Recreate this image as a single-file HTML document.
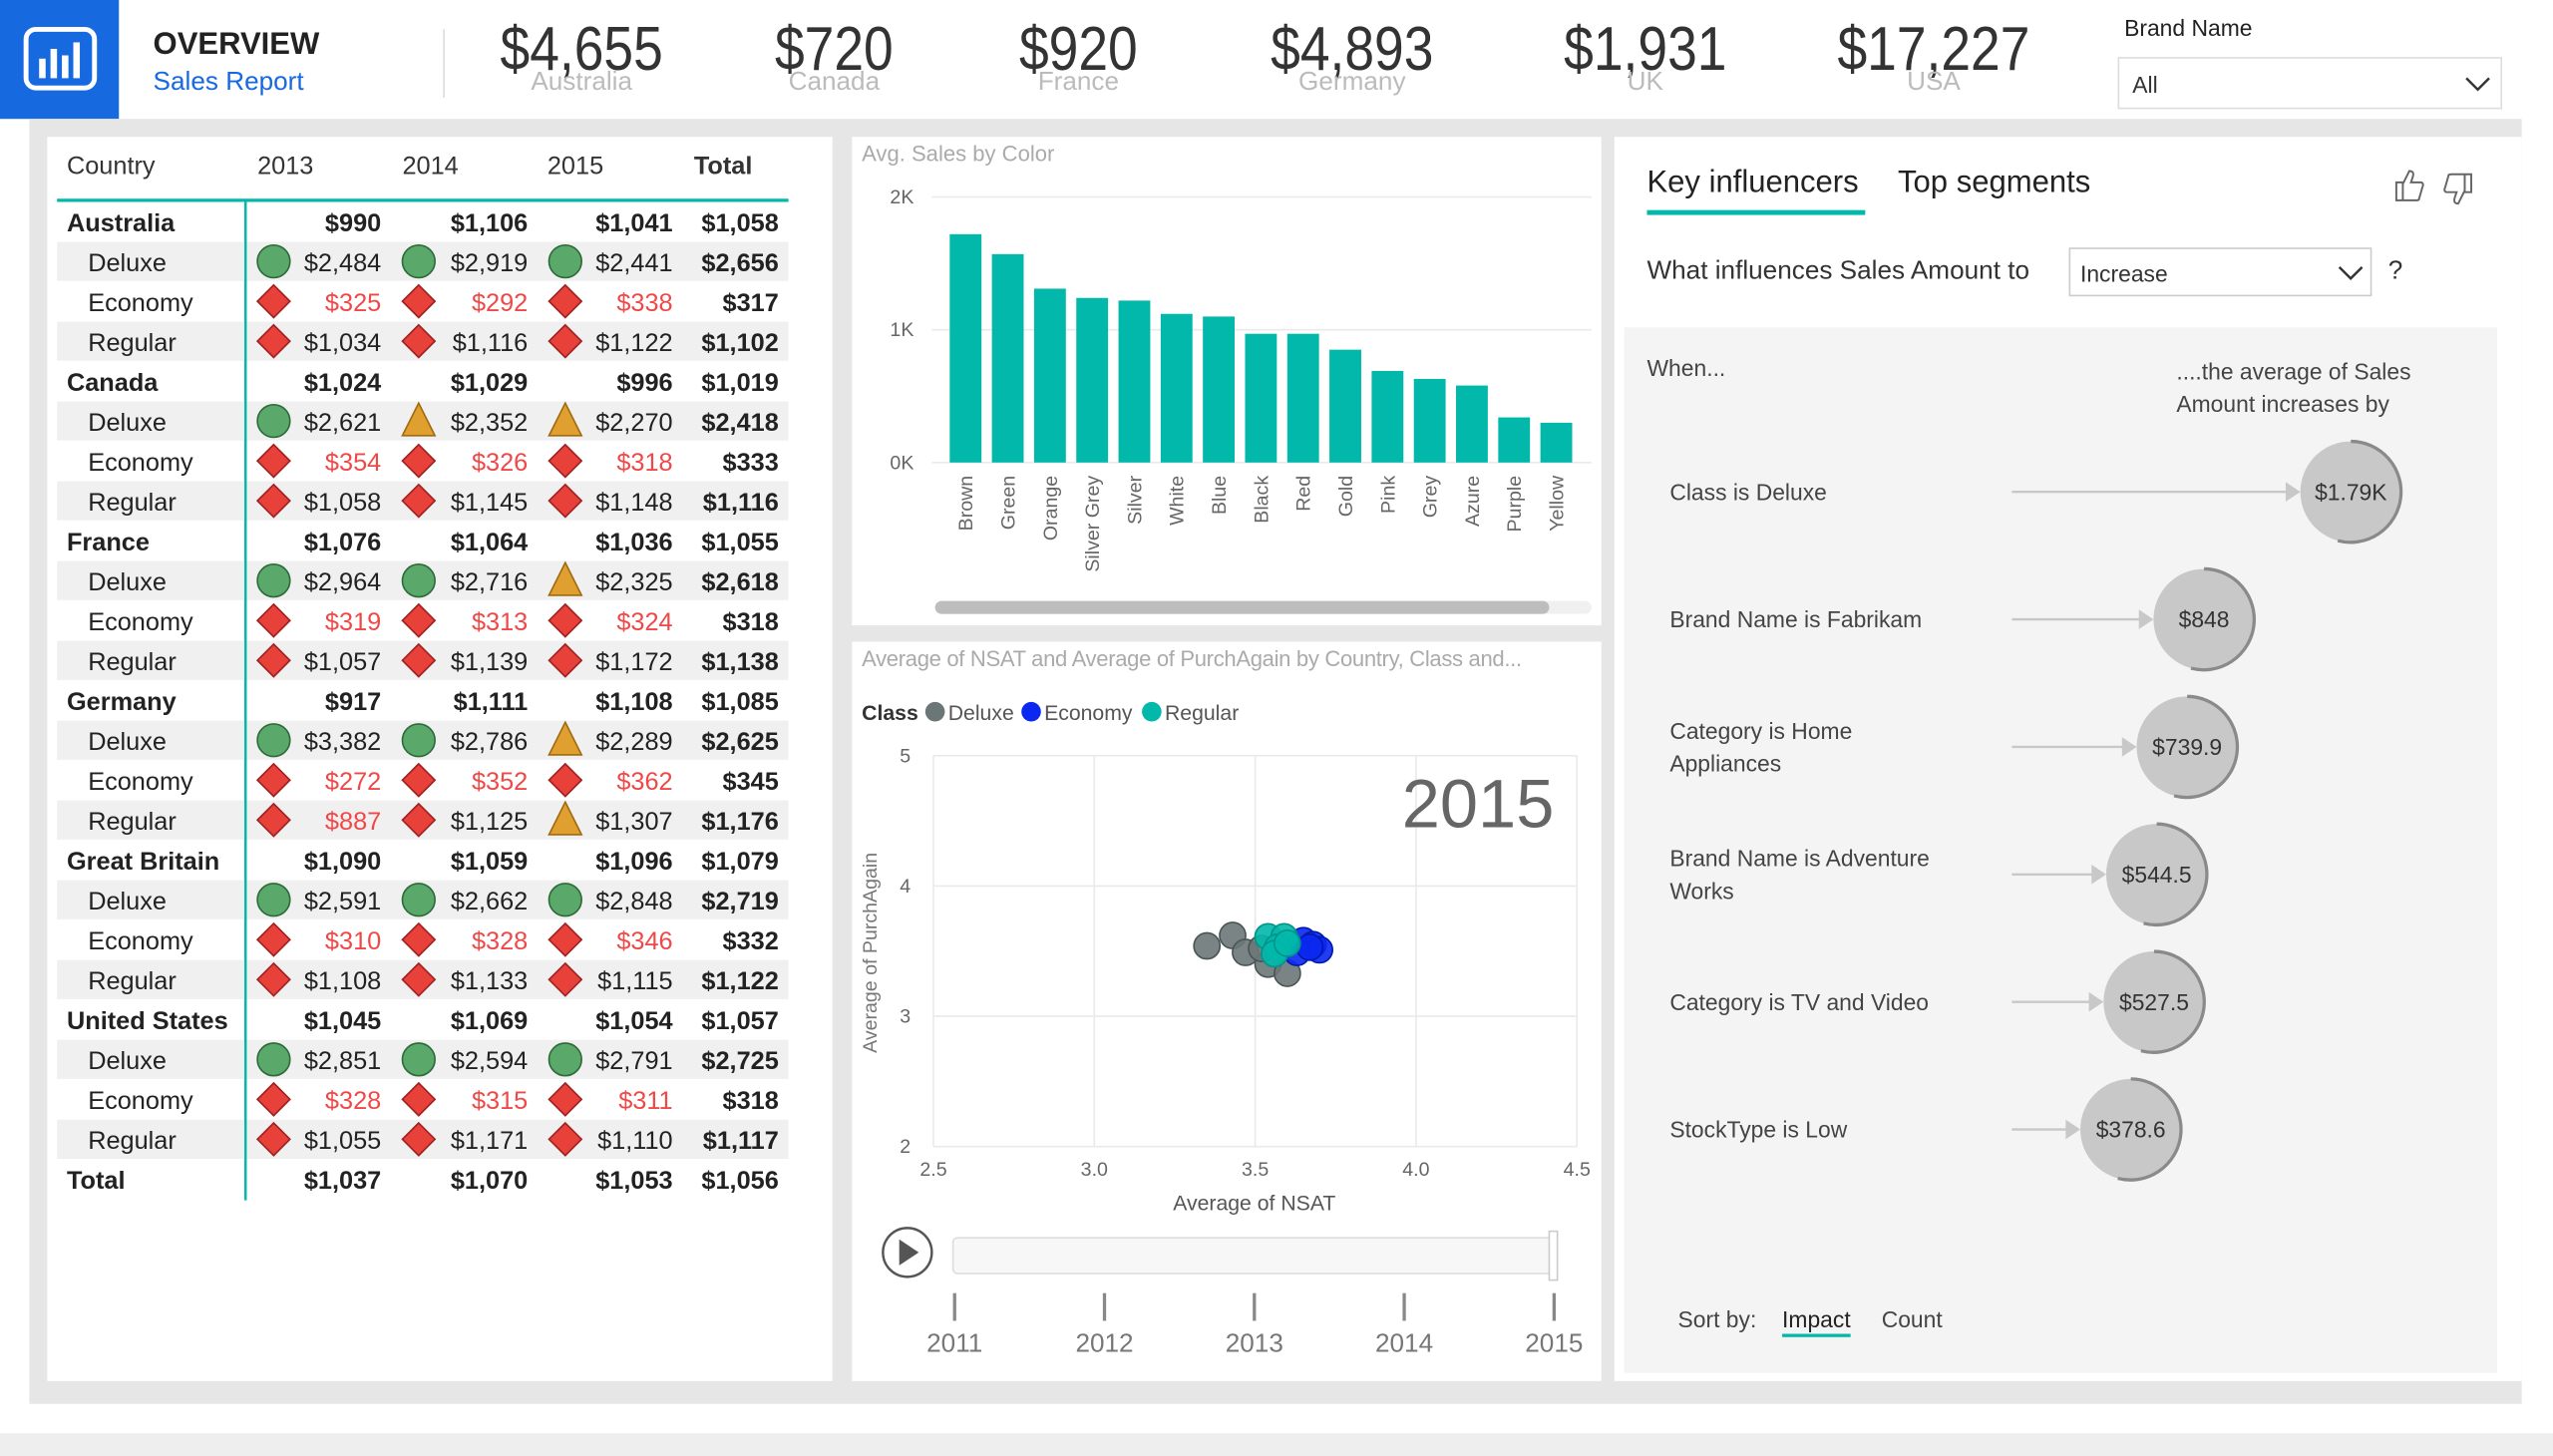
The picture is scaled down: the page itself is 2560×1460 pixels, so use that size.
<!DOCTYPE html>
<html><head><meta charset="utf-8">
<style>
*{box-sizing:border-box;margin:0;padding:0}
html,body{width:2560px;height:1460px;overflow:hidden;background:#fff;font-family:"Liberation Sans",sans-serif}
#wrap{position:absolute;left:0;top:0;width:1568px;height:894px;transform:scale(1.6335,1.6331);transform-origin:0 0;background:#fff}
.abs{position:absolute;white-space:nowrap}
.panel{position:absolute;background:#fff}
</style></head><body>
<div id="wrap">
<div class="abs" style="left:0;top:0;width:1568px;height:73px;background:#fff"></div>
<div class="abs" style="left:0;top:0;width:73px;height:73px;background:#1769e0">
<svg width="73" height="73"><rect x="16" y="18" width="42" height="36" rx="6" fill="none" stroke="#fff" stroke-width="3"/><rect x="24" y="36" width="4" height="12" fill="#fff"/><rect x="31" y="30" width="4" height="18" fill="#fff"/><rect x="38" y="34" width="4" height="14" fill="#fff"/><rect x="45" y="26" width="4" height="22" fill="#fff"/></svg></div>
<div class="abs" style="left:94px;top:17px;font-size:19px;font-weight:bold;color:#222">OVERVIEW</div>
<div class="abs" style="left:94px;top:42px;font-size:16px;color:#1769e0">Sales Report</div>
<div class="abs" style="left:272px;top:18px;width:1px;height:42px;background:#ddd"></div>
<div id="kpis"></div>
<div class="abs" style="left:1304px;top:9px;font-size:14px;color:#222">Brand Name</div>
<div class="abs" style="left:1300px;top:35px;width:236px;height:32px;border:1px solid #ddd;background:#fff">
<span class="abs" style="left:8px;top:8px;font-size:14px;color:#333">All</span>
<svg class="abs" style="left:212px;top:10px" width="16" height="12"><polyline points="1,2 8,9 15,2" fill="none" stroke="#333" stroke-width="1.5"/></svg></div>

<div class="abs" style="left:18px;top:73px;width:1530px;height:789px;background:#e6e6e6"></div>
<div class="abs" style="left:0;top:880px;width:1568px;height:14px;background:#eeeeee"></div>

<div class="panel" style="left:29px;top:84px;width:482px;height:764px">
<svg id="tbl" width="482" height="764"></svg></div>

<div class="panel" style="left:523px;top:84px;width:460px;height:300px"></div>
<div class="abs" style="left:529px;top:87px;font-size:13.5px;color:#aaa">Avg. Sales by Color</div>
<svg id="bar" class="abs" style="left:0;top:0" width="1568" height="894"></svg>

<div class="panel" style="left:523px;top:394px;width:460px;height:454px"></div>
<div class="abs" style="left:529px;top:397px;font-size:13.5px;color:#aaa;letter-spacing:-0.2px">Average of NSAT and Average of PurchAgain by Country, Class and...</div>
<svg id="sc" class="abs" style="left:0;top:0" width="1568" height="894"></svg>

<div class="panel" style="left:991px;top:84px;width:557px;height:764px"></div>
<div class="abs" style="left:1011px;top:102px;font-size:19px;color:#222">Key influencers</div>
<div class="abs" style="left:1011px;top:129px;width:134px;height:3px;background:#01b8aa"></div>
<div class="abs" style="left:1165px;top:102px;font-size:19px;color:#222">Top segments</div>
<svg class="abs" style="left:1468px;top:102px" width="56" height="26"><path d="M3,10 h4 v11 h-4z M7,11 l4,-8 c2,0 3,1 2,4 l-1,3 h6 c1,0 2,1 1,3 l-2,7 c0,1 -1,1 -2,1 h-8" fill="none" stroke="#666" stroke-width="1.2"/><g transform="translate(52,26) rotate(180)"><path d="M3,10 h4 v11 h-4z M7,11 l4,-8 c2,0 3,1 2,4 l-1,3 h6 c1,0 2,1 1,3 l-2,7 c0,1 -1,1 -2,1 h-8" fill="none" stroke="#666" stroke-width="1.2"/></g></svg>
<div class="abs" style="left:1011px;top:158px;font-size:16px;color:#333">What influences Sales Amount to</div>
<div class="abs" style="left:1270px;top:152px;width:186px;height:30px;border:1px solid #ccc;background:#fff"><span class="abs" style="left:6px;top:7px;font-size:14px;color:#333">Increase</span><svg class="abs" style="left:164px;top:9px" width="16" height="12"><polyline points="1,2 8,9 15,2" fill="none" stroke="#333" stroke-width="1.5"/></svg></div>
<div class="abs" style="left:1466px;top:158px;font-size:16px;color:#333">?</div>
<div class="abs" style="left:997px;top:201px;width:536px;height:642px;background:#f4f4f4"></div>
<div class="abs" style="left:1011px;top:218px;font-size:14px;color:#444">When...</div>
<div class="abs" style="left:1336px;top:218px;font-size:14px;color:#444;line-height:20px">....the average of Sales<br>Amount increases by</div>
<svg id="ki" class="abs" style="left:0;top:0" width="1568" height="894"></svg>
<div class="abs" style="left:1030px;top:802px;font-size:14px;color:#444">Sort by:</div>
<div class="abs" style="left:1094px;top:802px;font-size:14px;color:#222;border-bottom:2px solid #01b8aa;padding-bottom:1px">Impact</div>
<div class="abs" style="left:1155px;top:802px;font-size:14px;color:#444">Count</div>
</div>
<script>
const NS='http://www.w3.org/2000/svg';
function mk(p,tag,a,txt){const e=document.createElementNS(NS,tag);for(const k in a)e.setAttribute(k,a[k]);if(txt!==undefined)e.textContent=txt;p.appendChild(e);return e;}
const kpiValues=['$4,655','$720','$920','$4,893','$1,931','$17,227'];
const kpiLabels=['Australia','Canada','France','Germany','UK','USA'];
const kpiCenters=[357,512,662,830,1010,1187];
const kd=document.getElementById('kpis');
kpiValues.forEach((v,i)=>{
 const a=document.createElement('div');a.className='abs';a.style.cssText=`left:${kpiCenters[i]-100}px;top:10px;width:200px;text-align:center;font-size:38px;color:#333;transform:scaleX(0.86)`;a.textContent=v;
 
 
 kd.appendChild(a);
 const b=document.createElement('div');b.className='abs';b.style.cssText=`left:${kpiCenters[i]-100}px;top:42px;width:200px;text-align:center;font-size:16px;color:#bbb`;b.textContent=kpiLabels[i];
 
 
 kd.appendChild(b);
});
const tableHeaders=['Country','2013','2014','2015','Total'];
const tableRows=[
['Australia','c',['$990','$1,106','$1,041','$1,058'],''],
['Deluxe','s',['$2,484','$2,919','$2,441','$2,656'],'ggg'],
['Economy','s',['$325','$292','$338','$317'],'RRR'],
['Regular','s',['$1,034','$1,116','$1,122','$1,102'],'ddd'],
['Canada','c',['$1,024','$1,029','$996','$1,019'],''],
['Deluxe','s',['$2,621','$2,352','$2,270','$2,418'],'gtt'],
['Economy','s',['$354','$326','$318','$333'],'RRR'],
['Regular','s',['$1,058','$1,145','$1,148','$1,116'],'ddd'],
['France','c',['$1,076','$1,064','$1,036','$1,055'],''],
['Deluxe','s',['$2,964','$2,716','$2,325','$2,618'],'ggt'],
['Economy','s',['$319','$313','$324','$318'],'RRR'],
['Regular','s',['$1,057','$1,139','$1,172','$1,138'],'ddd'],
['Germany','c',['$917','$1,111','$1,108','$1,085'],''],
['Deluxe','s',['$3,382','$2,786','$2,289','$2,625'],'ggt'],
['Economy','s',['$272','$352','$362','$345'],'RRR'],
['Regular','s',['$887','$1,125','$1,307','$1,176'],'Rdt'],
['Great Britain','c',['$1,090','$1,059','$1,096','$1,079'],''],
['Deluxe','s',['$2,591','$2,662','$2,848','$2,719'],'ggg'],
['Economy','s',['$310','$328','$346','$332'],'RRR'],
['Regular','s',['$1,108','$1,133','$1,115','$1,122'],'ddd'],
['United States','c',['$1,045','$1,069','$1,054','$1,057'],''],
['Deluxe','s',['$2,851','$2,594','$2,791','$2,725'],'ggg'],
['Economy','s',['$328','$315','$311','$318'],'RRR'],
['Regular','s',['$1,055','$1,171','$1,110','$1,117'],'ddd'],
['Total','c',['$1,037','$1,070','$1,053','$1,056'],'']];
const T=document.getElementById('tbl');const ox=29,oy=84;
const hx=[41,158,247,336,426];
tableHeaders.forEach((h,i)=>{const t=mk(T,'text',{x:hx[i]-ox,y:107-oy,'font-size':15.5,fill:'#333','font-weight':i==4?'bold':'normal'},h);

});
const valRight=[234,324,413,478],iconX=[168,257,347];
tableRows.forEach((r,i)=>{
 const yc=136+i*24.5-oy;
 if(i%2==1){const bg=mk(T,'rect',{x:35-ox,y:yc-12,width:449,height:24,fill:'#f0f0f0'});}
 const bold=r[1]=='c';
 const lab=mk(T,'text',{x:(bold?41:54)-ox,y:yc+6,'font-size':15.5,fill:'#222','font-weight':bold?'bold':'normal'},r[0]);
 
 
 r[2].forEach((v,j)=>{
  const ic=r[3][j];const red=ic=='R';
  const t=mk(T,'text',{x:valRight[j]-ox,y:yc+6,'font-size':15.5,'text-anchor':'end',fill:red?'#f04848':'#222','font-weight':(bold||j==3)?'bold':'normal'},v);
  
  
  if(ic&&j<3){const cx=iconX[j]-ox;let e;
   if(ic=='g')e=mk(T,'circle',{cx:cx,cy:yc,r:10,fill:'#5aa86a',stroke:'#2e6b3b','stroke-width':1});
   else if(ic=='t')e=mk(T,'polygon',{points:`${cx},${yc-11} ${cx+10},${yc+9} ${cx-10},${yc+9}`,fill:'#e0a030',stroke:'#a06a10','stroke-width':1});
   else e=mk(T,'polygon',{points:`${cx},${yc-10} ${cx+10},${yc} ${cx},${yc+10} ${cx-10},${yc}`,fill:'#e8413a',stroke:'#a02020','stroke-width':1});
   
   }
 });
});
mk(T,'rect',{x:35-ox,y:122-oy,width:449,height:2,fill:'#01b8aa'});
mk(T,'rect',{x:150-ox,y:123-oy,width:1.5,height:614,fill:'#01b8aa'});

const colorNames=['Brown','Green','Orange','Silver Grey','Silver','White','Blue','Black','Red','Gold','Pink','Grey','Azure','Purple','Yellow'];
const avgSales=[1720,1570,1310,1240,1220,1120,1100,970,970,850,690,630,580,340,300];
const barTicks=[0,1000,2000];const barTickLabels=['0K','1K','2K'];
const B=document.getElementById('bar');
const bx0=580,bstep=25.9,by0=284,byTop=121;
const yB=v=>by0-(v/2000)*(by0-byTop);
const xB=i=>bx0+i*bstep;
barTicks.forEach((t,i)=>{mk(B,'line',{x1:572,x2:977,y1:yB(t),y2:yB(t),stroke:'#eaeaea'});
 const l=mk(B,'text',{x:561,y:yB(t)+4,'font-size':12,fill:'#666','text-anchor':'end'},barTickLabels[i]);
 
 });
avgSales.forEach((v,i)=>{const r=mk(B,'rect',{x:xB(i)+3,y:yB(v),width:19.5,height:by0-yB(v),fill:'#01b8aa'});
 
 
 const cx=xB(i)+13;
 const t=mk(B,'text',{x:cx+4,y:292,'font-size':12,fill:'#666','text-anchor':'end',transform:`rotate(-90 ${cx+4} 292)`},colorNames[i]);
 
 });
mk(B,'rect',{x:574,y:369,width:403,height:8,rx:4,fill:'#f0f0f0'});
const sb=mk(B,'rect',{x:574,y:369,width:377,height:8,rx:4,fill:'#bdbdbd'});



const deluxeNSAT=[3.35,3.43,3.47,3.54,3.60,3.52];
const deluxePurch=[3.54,3.62,3.49,3.40,3.33,3.52];
const economyNSAT=[3.65,3.68,3.70,3.63,3.67];
const economyPurch=[3.58,3.55,3.51,3.49,3.53];
const regularNSAT=[3.54,3.59,3.57,3.56,3.60];
const regularPurch=[3.61,3.61,3.53,3.48,3.56];
const xTicks=[2.5,3.0,3.5,4.0,4.5];const yTicks=[2,3,4,5];
const years=['2011','2012','2013','2014','2015'];
const S=document.getElementById('sc');
const xS=v=>573+(v-2.5)/2*395, yS=v=>704-(v-2)/3*240;
xTicks.forEach(t=>{mk(S,'line',{x1:xS(t),x2:xS(t),y1:464,y2:704,stroke:'#eaeaea'});
 const l=mk(S,'text',{x:xS(t),y:722,'font-size':12,fill:'#666','text-anchor':'middle'},t.toFixed(1));
 
 });
yTicks.forEach(t=>{mk(S,'line',{x1:573,x2:968,y1:yS(t),y2:yS(t),stroke:'#eaeaea'});
 const l=mk(S,'text',{x:559,y:yS(t)+4,'font-size':12,fill:'#666','text-anchor':'end'},String(t));
 
 });
const xt=mk(S,'text',{x:770,y:743,'font-size':13,fill:'#555','text-anchor':'middle'},'Average of NSAT');


const yt=mk(S,'text',{x:538,y:585,'font-size':12,fill:'#777','text-anchor':'middle',transform:'rotate(-90 538 585)'},'Average of PurchAgain');


const yr=mk(S,'text',{x:954,y:508,'font-size':42,fill:'#666','text-anchor':'end'},'2015');


const lg=mk(S,'text',{x:529,y:442,'font-size':13,fill:'#333','font-weight':'bold'},'Class');


[['Deluxe','#6b7777',574],['Economy','#0a28f0',633],['Regular','#01b8aa',707]].forEach(([n,c,x])=>{
 const d=mk(S,'circle',{cx:x,cy:437,r:6,fill:c});
 mk(S,'text',{x:x+8,y:442,'font-size':13,fill:'#555'},n);});
function pts(xs,ys,c,stroke,name){xs.forEach((v,i)=>{const p=mk(S,'circle',{cx:xS(v),cy:yS(ys[i]),r:8,fill:c,'fill-opacity':0.9,stroke:stroke,'stroke-width':1});
 
 });}
pts(deluxeNSAT,deluxePurch,'#6b7777','#4a5555','point-deluxe');
pts(economyNSAT,economyPurch,'#0a28f0','#0018b0','point-economy');
pts(regularNSAT,regularPurch,'#01b8aa','#00948a','point-regular');
const pb=mk(S,'circle',{cx:557,cy:769,r:15,fill:'#fff',stroke:'#555','stroke-width':1.5});


mk(S,'polygon',{points:'552,761 552,777 564,769',fill:'#555'});
const tr=mk(S,'rect',{x:585,y:760,width:370,height:22,rx:3,fill:'#f7f7f7',stroke:'#ddd'});


mk(S,'rect',{x:951,y:756,width:5,height:30,fill:'#fff',stroke:'#ccc'});
years.forEach((y,i)=>{const x=586+i*92;mk(S,'line',{x1:x,x2:x,y1:794,y2:811,stroke:'#888','stroke-width':2});
 const t=mk(S,'text',{x:x,y:830,'font-size':16,fill:'#777','text-anchor':'middle'},y);
 
 });

const kiLabels=[['Class is Deluxe'],['Brand Name is Fabrikam'],['Category is Home','Appliances'],['Brand Name is Adventure','Works'],['Category is TV and Video'],['StockType is Low']];
const kiValues=[1790,848,739.9,544.5,527.5,378.6];
const kiText=['$1.79K','$848','$739.9','$544.5','$527.5','$378.6'];
const K=document.getElementById('ki');
const xK=v=>1271.8+v*0.0957;
kiValues.forEach((v,i)=>{const y=302+i*78.3;const cx=xK(v);
 kiLabels[i].forEach((l,j)=>{const t=mk(K,'text',{x:1025,y:y+5+(kiLabels[i].length>1?(j*20-10):0),'font-size':14,fill:'#444'},l);
  
  });
 mk(K,'line',{x1:1235,x2:cx-38,y1:y,y2:y,stroke:'#c8c8c8','stroke-width':1.5});
 mk(K,'polygon',{points:`${cx-40},${y-6} ${cx-31},${y} ${cx-40},${y+6}`,fill:'#c8c8c8'});
 const c=mk(K,'circle',{cx:cx,cy:y,r:31,fill:'#c8c8c8'});
 
 
 mk(K,'path',{d:`M${cx},${y-31} A31,31 0 1 1 ${cx-8},${y+30}`,fill:'none',stroke:'#8a8a8a','stroke-width':2});
 const t=mk(K,'text',{x:cx,y:y+5,'font-size':14,fill:'#333','text-anchor':'middle'},kiText[i]);
 
 
});
</script>
</body></html>
